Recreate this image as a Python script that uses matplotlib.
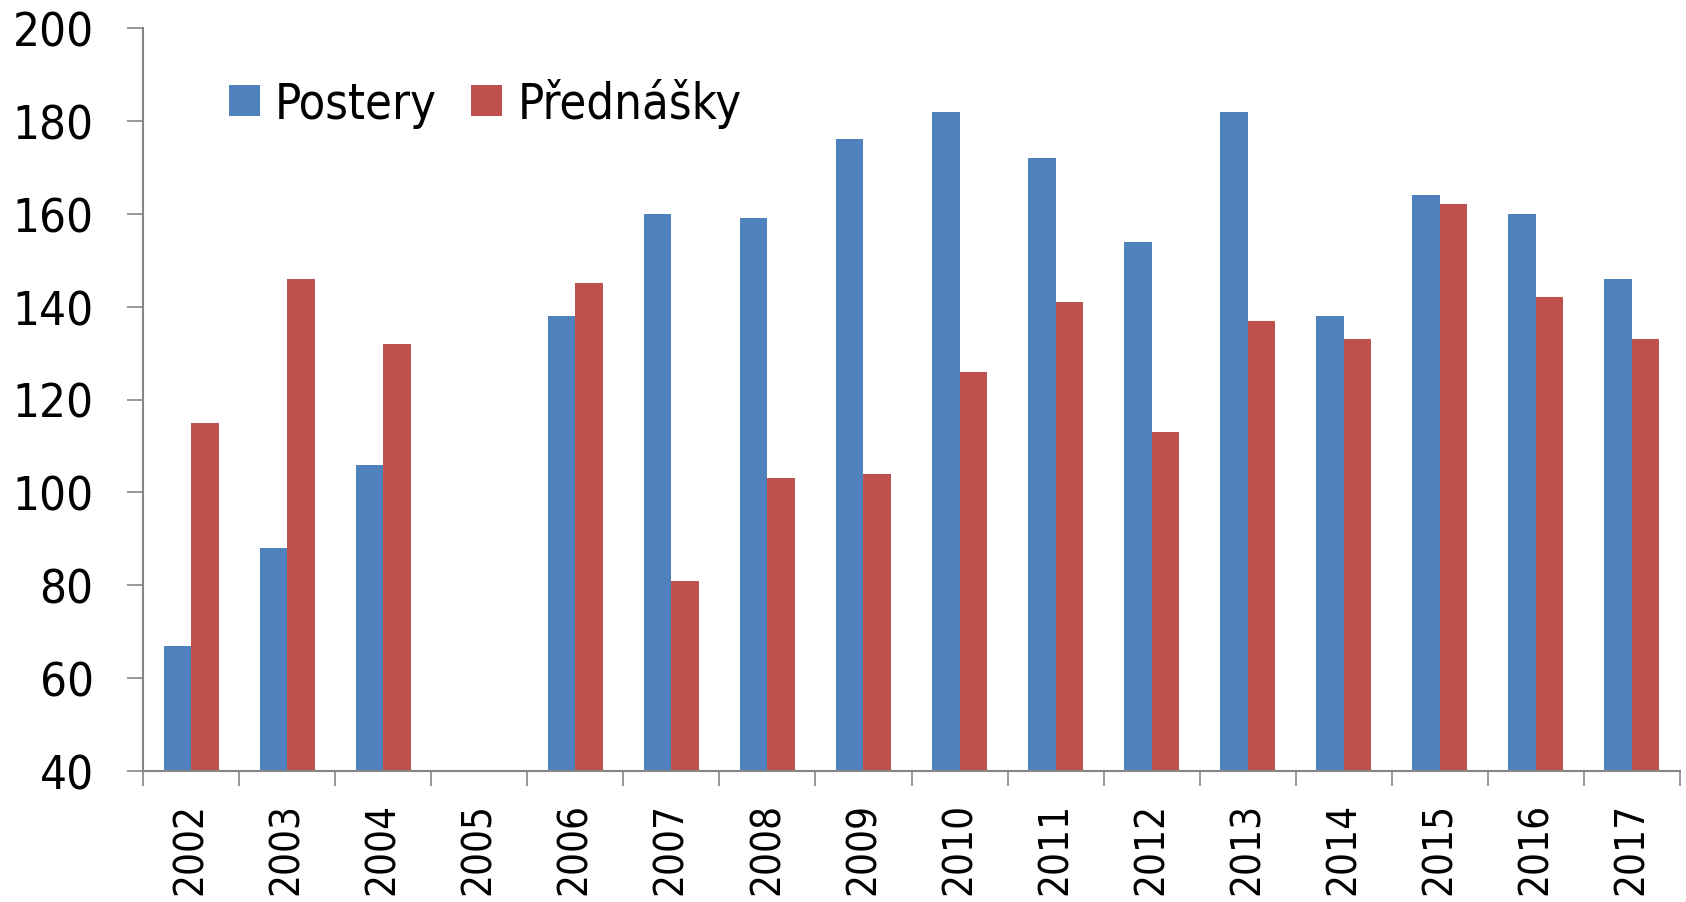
import matplotlib.pyplot as plt
import numpy as np

years = ["2002", "2003", "2004", "2005", "2006", "2007", "2008", "2009",
         "2010", "2011", "2012", "2013", "2014", "2015", "2016", "2017"]
postery = [67, 88, 106, np.nan, 138, 160, 159, 176, 182, 172, 154, 182, 138, 164, 160, 146]
prednasky = [115, 146, 132, np.nan, 145, 81, 103, 104, 126, 141, 113, 137, 133, 162, 142, 133]

blue = "#4F81BD"
red = "#C0504D"
grey = "#868686"

fig = plt.figure(figsize=(16.86, 9.03), dpi=100)
ax = fig.add_axes([143/1686, 1 - 772/903, (1680-143)/1686, (772-29)/903])

x = np.arange(len(years))
w = 0.286
ax.bar(x - w/2, postery, w, color=blue, label="Postery")
ax.bar(x + w/2, prednasky, w, color=red, label="Přednášky")

ax.set_ylim(40, 200)
ax.set_xlim(-0.5, len(years) - 0.5)
ax.set_yticks(np.arange(40, 201, 20))
ax.set_xticks(x)
ax.set_xticklabels(years, rotation=90, fontsize=29, fontstretch="condensed")
ax.set_xticks(np.arange(-0.5, len(years), 1), minor=True)

for lab in ax.get_yticklabels():
    lab.set_fontsize(34)
    lab.set_fontstretch("condensed")

ax.tick_params(axis="x", which="major", length=0, pad=22)
ax.tick_params(axis="x", which="minor", length=11, color=grey, width=1.2)
ax.tick_params(axis="y", length=11.5, color=grey, width=1.2, pad=24)

for s in ["top", "right"]:
    ax.spines[s].set_visible(False)
for s in ["left", "bottom"]:
    ax.spines[s].set_color(grey)
    ax.spines[s].set_linewidth(1.5)

leg = fig.legend(loc="upper left", bbox_to_anchor=(229/1686, 1 - 79/903), ncol=2,
                 frameon=False, borderpad=0, borderaxespad=0,
                 handlelength=0.64, handleheight=0.6, handletextpad=0.31,
                 columnspacing=0.7, prop={"size": 35, "stretch": "condensed"})

fig.savefig("out.png", dpi=100)
